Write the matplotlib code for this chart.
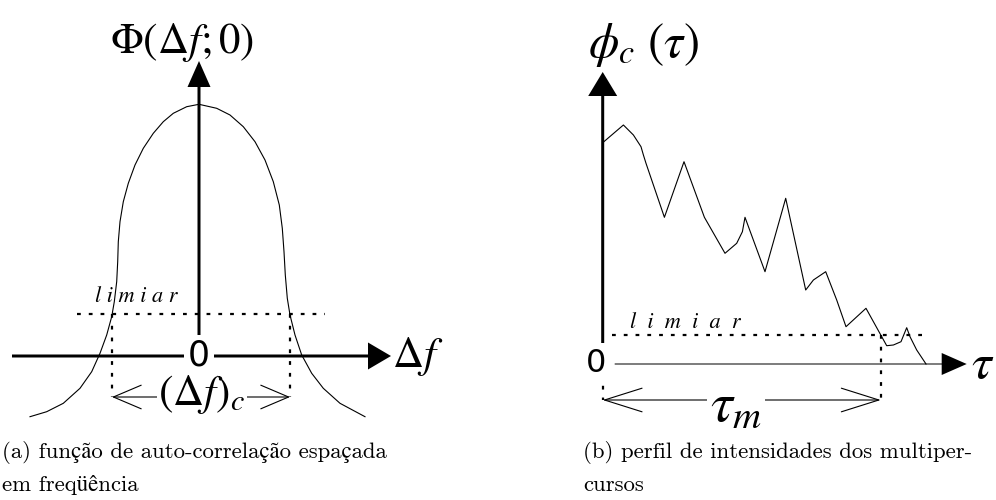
import matplotlib.pyplot as plt
from matplotlib.patches import FancyArrowPatch, ArrowStyle

plt.rcParams['mathtext.fontset'] = 'stix'

# (a) spaced-frequency autocorrelation Phi(delta f; 0)
delta_f = [-1.69, -1.523, -1.357, -1.19, -1.073, -0.99, -0.923, -0.873,
           -0.847, -0.823, -0.813, -0.807, -0.79, -0.757, -0.707, -0.64,
           -0.557, -0.457, -0.357, -0.257, -0.123, 0.0,
           0.177, 0.31, 0.443, 0.56, 0.66, 0.743, 0.803, 0.833, 0.85,
           0.863, 0.883, 0.91, 0.96, 1.027, 1.127, 1.243, 1.41, 1.66]
phi_df = [-0.607, -0.557, -0.473, -0.323, -0.157, 0.027, 0.21, 0.393,
          0.543, 0.743, 0.943, 1.143, 1.343, 1.543, 1.727, 1.91,
          2.077, 2.227, 2.343, 2.427, 2.493, 2.517,
          2.477, 2.41, 2.293, 2.143, 1.96, 1.743, 1.51, 1.277, 1.043,
          0.81, 0.577, 0.41, 0.21, 0.01, -0.173, -0.323, -0.473, -0.607]
limiar_a = 0.42
coh_bw = (-0.87, 0.91)

# (b) multipath intensity profile phi_c(tau)
tau = [0.0, 0.207, 0.307, 0.383, 0.407, 0.433, 0.617, 0.813, 1.017, 1.223,
       1.34, 1.397, 1.423, 1.623, 1.83, 2.03, 2.107, 2.23, 2.34, 2.433,
       2.633, 2.84, 2.907, 2.983, 3.04, 3.073, 3.14, 3.233]
phi_c = [2.213, 2.39, 2.29, 2.173, 2.09, 2.007, 1.467, 2.023, 1.467, 1.107,
         1.207, 1.323, 1.467, 0.923, 1.657, 0.74, 0.84, 0.923, 0.64, 0.373,
         0.557, 0.183, 0.19, 0.223, 0.363, 0.273, 0.14, 0.0]
limiar_b = 0.29
tau_m = 2.78

dots = (0, (1.7, 3.6))

fig = plt.figure(figsize=(9.96, 5), dpi=100)
ax_a = fig.add_axes([0, 0, 0.5, 1])
ax_b = fig.add_axes([0.5, 0, 0.5, 1])
ax_a.set_xlim(-1.99, 2.99)
ax_a.set_ylim(-1.44, 3.56)
ax_b.set_xlim(-1.047, 3.933)
ax_b.set_ylim(-1.36, 3.64)
for ax in (ax_a, ax_b):
    ax.set_aspect('equal')
    ax.axis('off')


def double_arrow(ax, x0, x1, y, hl, hw):
    style = ArrowStyle('<->', head_length=hl, head_width=hw)
    ax.add_patch(FancyArrowPatch((x0, y), (x1, y), arrowstyle=style,
                                 mutation_scale=1, lw=0.8, color='k',
                                 shrinkA=0, shrinkB=0))


# ---- panel (a)
ax_a.plot(delta_f, phi_df, color='k', lw=0.8)
ax_a.arrow(-1.87, 0, 3.79, 0, width=0.03, head_width=0.27, head_length=0.23,
           length_includes_head=True, fc='k', ec='k', lw=0)
ax_a.arrow(0, 0.21, 0, 2.74, width=0.03, head_width=0.23, head_length=0.26,
           length_includes_head=True, fc='k', ec='k', lw=0)
ax_a.plot([-1.22, 1.26], [limiar_a, limiar_a], color='k', lw=1.6, ls=dots)
for x in coh_bw:
    ax_a.plot([x, x], [limiar_a, -0.41], color='k', lw=1.6, ls=dots)
double_arrow(ax_a, coh_bw[0], coh_bw[1], -0.41, 20, 8.5)

ax_a.text(0, 0, '0', ha='center', va='center', fontsize=25,
          family=['Liberation Sans Narrow', 'DejaVu Sans'],
          bbox=dict(fc='white', ec='none', pad=3))
ax_a.text(-0.17, 3.13, r'$\Phi(\Delta f;0)$', ha='center', va='center',
          fontsize=31)
ax_a.text(1.93, 0.0, r'$\Delta f$', ha='left', va='center', fontsize=31)
ax_a.text(0.03, -0.38, r'$(\Delta f)_c$', ha='center', va='center',
          fontsize=31, bbox=dict(fc='white', ec='none', pad=1))
ax_a.text(-0.63, 0.59, 'l i m i a r', ha='center', va='center',
          fontsize=16, style='italic', family='STIXGeneral')

# ---- panel (b)
ax_b.plot(tau, phi_c, color='k', lw=0.8)
ax_b.plot([0, 0], [-0.1, -0.36], color='k', lw=1.6, ls=dots)
ax_b.arrow(0, 0.21, 0, 2.71, width=0.03, head_width=0.29, head_length=0.24,
           length_includes_head=True, fc='k', ec='k', lw=0)
ax_b.arrow(0.12, 0, 3.52, 0, width=0.01, head_width=0.22, head_length=0.25,
           length_includes_head=True, fc='k', ec='k', lw=0)
ax_b.plot([0.09, 3.24], [limiar_b, limiar_b], color='k', lw=1.6, ls=dots)
ax_b.plot([tau_m, tau_m], [limiar_b, -0.36], color='k', lw=1.6, ls=dots)
double_arrow(ax_b, 0, tau_m, -0.36, 27, 8.5)

ax_b.text(-0.067, 0, '0', ha='center', va='center', fontsize=23,
          family=['Liberation Sans Narrow', 'DejaVu Sans'],
          bbox=dict(fc='white', ec='none', pad=1))
ax_b.text(-0.15, 3.19, r'$\phi_c\ (\tau)$', ha='left', va='center',
          fontsize=35)
ax_b.text(3.685, 0.0, r'$\tau$', ha='left', va='center', fontsize=36)
ax_b.text(1.33, -0.42, r'$\tau_m$', ha='center', va='center', fontsize=40,
          bbox=dict(fc='white', ec='none', pad=2))
ax_b.text(0.83, 0.41, 'l  i  m  i  a  r', ha='center', va='center',
          fontsize=16, style='italic', family='STIXGeneral')

# ---- captions
cap = dict(fontsize=16.4, family=['cmr10', 'STIXGeneral'], va='center',
           ha='left')
fig.text(2 / 996, 1 - 453 / 500, '(a) função de auto-correlação espaçada',
         **cap)
fig.text(2 / 996, 1 - 485 / 500, 'em freqüência', **cap)
fig.text(583 / 996, 1 - 453 / 500, '(b) perfil de intensidades dos multiper-',
         **cap)
fig.text(583 / 996, 1 - 485 / 500, 'cursos', **cap)

fig.savefig('out.png', dpi=100)
